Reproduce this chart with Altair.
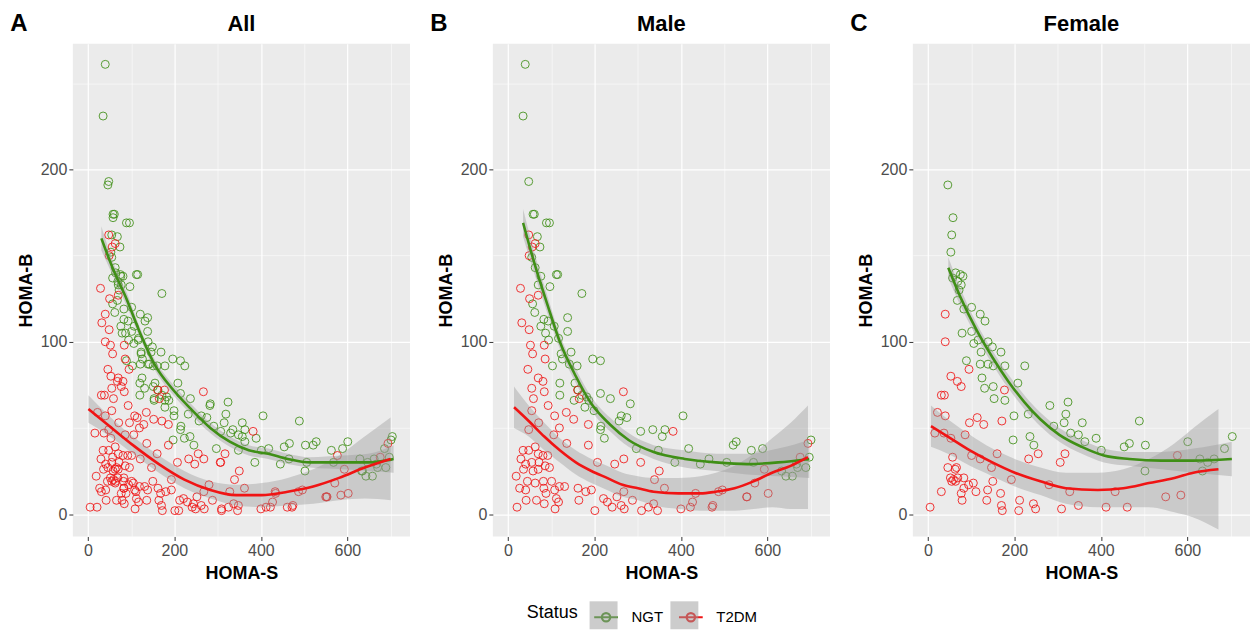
import altair as alt
import pandas as pd

FONT = "Liberation Sans"

# ---------------- data ----------------
status_levels = ["NGT", "T2DM"]
status_colors = ["#3f8f16", "#f01414"]
band_levels = ["NGT band", "T2DM band"]
band_colors = ["#999999", "#999999"]

male_ngt = [[40,261],[35,231],[48,193],[58,174],[61,174],[89,169],[96,169],[68,161],[74,155],[55,149],
            [63,143],[76,138],[70,133],[112,139],[115,139],[97,132],[171,128],[57,122],[62,117],[138,114],
            [83,113],[93,112],[107,109],[76,109],[87,105],[138,106],[117,102],[94,101],[123,93],[146,94],
            [126,90],[103,86],[196,90],[214,89],[142,87],[160,86],[155,76],[120,76],[162,72],[120,69],
            [171,69],[153,66],[182,68],[187,66],[214,70],[237,67],[283,64],[178,62],[199,60],[215,51],
            [214,49],[223,44],[262,57],[275,56],[257,54],[307,48],[335,49],[363,49],[357,45],[297,38],
            [348,37],[405,57],[418,38],[465,32],[521,40],[528,42],[563,37],[589,38],[506,30],[386,30],
            [568,30],[633,25],[658,22],[670,27],[689,27],[697,33],[701,43],[667,29],[643,22],[445,29]]

male_t2dm = [[48,162],[63,157],[56,155],[49,150],[29,131],[50,125],[70,127],[32,111],[49,107],[52,98],
             [84,98],[57,93],[86,90],[46,84],[70,79],[81,77],[55,73],[59,67],[84,71],[93,63],
             [55,60],[71,53],[108,57],[135,59],[152,55],[119,50],[106,46],[161,72],[165,67],[186,52],
             [267,71],[382,48],[186,40],[136,41],[48,49],[35,37],[48,37],[63,39],[70,35],[81,34],
             [92,34],[30,32],[41,29],[55,30],[72,30],[86,28],[96,27],[36,26],[58,25],[70,26],
             [19,22],[45,19],[63,18],[82,19],[101,19],[27,15],[41,14],[83,15],[88,12],[108,14],
             [119,16],[131,16],[112,9],[117,7],[42,8],[66,8],[84,6],[109,3],[21,4],[162,15],
             [164,8],[180,13],[193,14],[207,30],[221,9],[230,7],[241,4],[201,2],[252,10],[268,13],
             [268,32],[247,29],[262,5],[269,3],[307,30],[288,8],[309,2],[325,4],[337,6],[346,2],
             [350,25],[339,20],[362,15],[400,3],[422,4],[427,7],[434,12],[472,4],[474,5],[487,13],
             [496,14],[552,10],[553,10],[602,12],[571,18],[593,26],[694,41],[676,33]]

female_ngt = [[46,191],[58,172],[55,162],[53,152],[57,137],[64,140],[75,139],[81,138],[69,135],[77,133],
              [72,130],[68,124],[83,119],[101,120],[121,116],[132,112],[79,105],[101,106],[106,99],[116,101],
              [139,100],[123,94],[149,97],[169,94],[89,89],[121,87],[139,87],[151,86],[178,86],[224,86],
              [125,79],[131,73],[151,74],[208,76],[153,67],[178,66],[199,57],[197,43],[232,58],[236,45],
              [245,40],[282,63],[291,51],[319,58],[324,65],[315,53],[330,47],[348,46],[357,53],[363,42],
              [389,44],[401,37],[454,39],[466,41],[489,54],[503,40],[502,25],[601,42],[629,32],[635,25],
              [647,30],[662,32],[686,38],[704,45]]

female_t2dm = [[40,116],[40,100],[53,80],[68,77],[77,74],[31,69],[38,69],[22,59],[40,57],[16,47],
               [37,47],[53,44],[86,46],[96,53],[114,56],[129,52],[95,84],[177,72],[171,54],[160,35],
               [147,27],[101,34],[121,32],[233,32],[255,35],[306,30],[317,35],[57,33],[46,27],[63,26],
               [66,27],[59,20],[55,19],[52,21],[64,19],[69,21],[83,21],[83,15],[77,12],[79,8],
               [94,17],[105,18],[111,13],[138,14],[150,19],[31,13],[5,4],[136,8],[168,12],[170,5],
               [172,2],[193,20],[212,8],[210,2],[244,6],[249,3],[280,17],[309,3],[328,13],[348,5],
               [412,4],[433,13],[461,4],[550,10],[577,34],[585,11]]

# smoothed fits: x, fit, lower, upper
all_ngt_fit_x = [31, 60, 89, 119, 156, 194, 238, 283, 328, 372, 417, 462, 514, 588, 648, 707]
all_ngt_fit_y = [160, 141, 125, 106, 86, 73, 61, 50, 42, 37, 35, 32, 30, 30, 30, 32]
all_ngt_lo    = [153, 137, 121, 103, 83, 70, 58, 47, 39, 34, 32, 29, 27, 26, 25, 24]
all_ngt_hi    = [167, 145, 129, 109, 89, 76, 64, 53, 45, 40, 38, 35, 33, 34, 35, 40]

all_t2dm_fit_x = [1, 45, 104, 164, 223, 283, 343, 402, 462, 521, 581, 640, 700]
all_t2dm_fit_y = [61, 52, 40, 29, 20, 14, 11, 11, 13, 16, 21, 27, 32]
all_t2dm_lo    = [53, 46, 35, 24, 15, 9, 5, 4, 5, 6, 8, 9, 8]
all_t2dm_hi    = [69, 58, 45, 34, 25, 19, 17, 18, 21, 26, 34, 45, 56]

male_ngt_fit_x = [35, 63, 92, 120, 157, 193, 236, 279, 337, 409, 481, 553, 625, 697]
male_ngt_fit_y = [169, 144, 121, 100, 80, 64, 52, 43, 36, 32, 30, 29, 30, 32]
male_ngt_lo    = [161, 138, 116, 96, 76, 60, 48, 39, 32, 27, 25, 23, 22, 21]
male_ngt_hi    = [177, 150, 126, 104, 84, 68, 56, 47, 40, 37, 35, 35, 38, 43]

male_t2dm_fit_x = [14, 48, 84, 120, 157, 193, 229, 265, 301, 337, 395, 445, 481, 524, 568, 611, 654, 694]
male_t2dm_fit_y = [62, 54, 45, 37, 30, 25, 21, 17, 15, 13, 12, 12, 13, 15, 19, 24, 28, 33]
male_t2dm_lo    = [50, 45, 37, 30, 23, 18, 14, 10, 8, 5, 3, 2, 2, 2, 3, 4, 3, 3]
male_t2dm_hi    = [74, 63, 53, 44, 37, 32, 28, 24, 22, 21, 21, 22, 24, 28, 35, 44, 53, 63]

female_ngt_fit_x = [47, 75, 112, 149, 186, 223, 260, 304, 356, 407, 466, 540, 614, 703]
female_ngt_fit_y = [143, 126, 107, 91, 77, 65, 55, 46, 39, 34, 32, 31, 31, 32]
female_ngt_lo    = [137, 121, 103, 87, 73, 61, 51, 42, 35, 30, 28, 26, 24, 22]
female_ngt_hi    = [149, 131, 111, 95, 81, 69, 59, 50, 43, 38, 36, 36, 38, 42]

female_t2dm_fit_x = [7, 46, 97, 149, 201, 260, 319, 393, 452, 511, 570, 614, 672]
female_t2dm_fit_y = [51, 45, 37, 30, 24, 19, 15, 14, 15, 18, 21, 24, 26]
female_t2dm_lo    = [39, 35, 28, 22, 16, 11, 6, 4, 4, 4, 1, -2, -9]
female_t2dm_hi    = [63, 55, 46, 38, 32, 27, 24, 24, 26, 32, 41, 50, 61]

panel_letters = ["A", "B", "C"]
panel_titles = ["All", "Male", "Female"]
x_ticks = [0, 100, 200, 300, 400, 500, 600, 700]
y_ticks = [0, 50, 100, 150, 200, 250]

# ---------------- build tables ----------------
def pts_df(ngt, t2dm):
    rows = [{"x": p[0], "y": p[1], "Status": "NGT"} for p in ngt]
    rows += [{"x": p[0], "y": p[1], "Status": "T2DM"} for p in t2dm]
    return pd.DataFrame(rows)

def fit_df(nx, ny, nlo, nhi, tx, ty, tlo, thi):
    a = pd.DataFrame({"x": nx, "y": ny, "lo": nlo, "hi": nhi,
                      "Status": status_levels[0], "Band": band_levels[0]})
    b = pd.DataFrame({"x": tx, "y": ty, "lo": tlo, "hi": thi,
                      "Status": status_levels[1], "Band": band_levels[1]})
    return pd.concat([a, b], ignore_index=True)

points = [
    pts_df(male_ngt + female_ngt, male_t2dm + female_t2dm),
    pts_df(male_ngt, male_t2dm),
    pts_df(female_ngt, female_t2dm),
]
fits = [
    fit_df(all_ngt_fit_x, all_ngt_fit_y, all_ngt_lo, all_ngt_hi,
           all_t2dm_fit_x, all_t2dm_fit_y, all_t2dm_lo, all_t2dm_hi),
    fit_df(male_ngt_fit_x, male_ngt_fit_y, male_ngt_lo, male_ngt_hi,
           male_t2dm_fit_x, male_t2dm_fit_y, male_t2dm_lo, male_t2dm_hi),
    fit_df(female_ngt_fit_x, female_ngt_fit_y, female_ngt_lo, female_ngt_hi,
           female_t2dm_fit_x, female_t2dm_fit_y, female_t2dm_lo, female_t2dm_hi),
]

# ---------------- encodings ----------------
W, H = 338, 494
xscale = alt.Scale(domain=[-35, 745], nice=False, zero=False)
yscale = alt.Scale(domain=[-13, 273], nice=False, zero=False)

xaxis = alt.Axis(
    values=x_ticks,
    labelExpr="datum.value % 200 === 0 ? datum.label : ''",
    gridWidth={"condition": {"test": "datum.value % 200 === 0", "value": 1.2}, "value": 0.55},
    tickOpacity={"condition": {"test": "datum.value % 200 === 0", "value": 1}, "value": 0},
    titlePadding=6,
)
yaxis = alt.Axis(
    values=y_ticks,
    labelExpr="datum.value % 100 === 0 ? datum.label : ''",
    gridWidth={"condition": {"test": "datum.value % 100 === 0", "value": 1.2}, "value": 0.55},
    tickOpacity={"condition": {"test": "datum.value % 100 === 0", "value": 1}, "value": 0},
    titlePadding=5,
)

LEG_X, LEG_Y = 455, 559
# Status legend: coloured line + circle keys with labels
key_symbol = "M-0.85,0L0.85,0M0.3,0A0.3,0.3 0 1,1 -0.3,0A0.3,0.3 0 1,1 0.3,0"
stroke_legend = alt.Legend(
    orient="none", legendX=LEG_X, legendY=LEG_Y, direction="horizontal",
    titleOrient="left", title="Status", symbolSize=784, columnPadding=11, labelOffset=10,
    labelFontSize=15, titleFontSize=18, titleFontWeight="normal", titlePadding=12,
    labelFont=FONT, titleFont=FONT, labelColor="#000000", titleColor="#000000",
    symbolType=key_symbol, symbolStrokeWidth=2.2, symbolFillColor="transparent", symbolOpacity=1,
)
# grey key backgrounds (the ribbon), drawn underneath the Status keys, no texts
fill_legend = alt.Legend(
    orient="none", legendX=LEG_X + 63, legendY=LEG_Y, direction="horizontal",
    title="", symbolSize=784, columnPadding=43, labelOffset=10, labelExpr="''",
    symbolType="square", symbolOpacity=0.5, symbolStrokeWidth=0,
)
stroke = alt.Stroke("Status:N", scale=alt.Scale(domain=status_levels, range=status_colors),
                    legend=stroke_legend)
fill = alt.Fill("Band:N", scale=alt.Scale(domain=band_levels, range=band_colors),
                legend=fill_legend)


def panel(i):
    X = alt.X("x:Q", scale=xscale, axis=xaxis, title="HOMA-S")
    Y = alt.Y("y:Q", scale=yscale, axis=yaxis, title="HOMA-B")
    pts = alt.Chart(points[i]).mark_point(
        shape="circle", filled=False, size=64, strokeWidth=1, opacity=0.85
    ).encode(x=X, y=Y, stroke=stroke)
    band = alt.Chart(fits[i]).mark_area(opacity=0.4, interpolate="monotone").encode(
        x=alt.X("x:Q", scale=xscale), y=alt.Y("lo:Q", scale=yscale), y2="hi:Q", fill=fill
    )
    line = alt.Chart(fits[i]).mark_line(strokeWidth=2.6, interpolate="monotone").encode(
        x=alt.X("x:Q", scale=xscale), y=alt.Y("y:Q", scale=yscale), stroke=stroke
    )
    letter = alt.Chart(pd.DataFrame({"t": [panel_letters[i]]})).mark_text(
        font=FONT, fontSize=24, fontWeight="bold", align="center", baseline="middle", color="#000000"
    ).encode(text="t:N", x=alt.value(-54), y=alt.value(-20))
    title = alt.Chart(pd.DataFrame({"t": [panel_titles[i]]})).mark_text(
        font=FONT, fontSize=22, fontWeight="bold", align="center", baseline="middle", color="#000000"
    ).encode(text="t:N", x=alt.value(W / 2), y=alt.value(-20))
    return alt.layer(pts, band, line, letter, title).properties(width=W, height=H)


chart = alt.hconcat(panel(0), panel(1), panel(2), spacing=20).resolve_scale(
    stroke="shared", fill="shared"
).resolve_legend(stroke="shared", fill="shared").properties(
    padding={"left": 2, "top": 3, "right": 2, "bottom": 0},
    background="#FFFFFF",
).configure_view(
    fill="#EBEBEB", stroke=None
).configure_axis(
    domain=False, gridColor="#FFFFFF", tickColor="#333333", tickSize=4, tickWidth=1,
    labelColor="#4D4D4D", labelFontSize=16, labelFont=FONT, labelPadding=2,
    titleFont=FONT, titleFontSize=18, titleFontWeight="bold", titleColor="#000000",
)

chart.save("out.html", embed_options={"renderer": "svg", "actions": False})
